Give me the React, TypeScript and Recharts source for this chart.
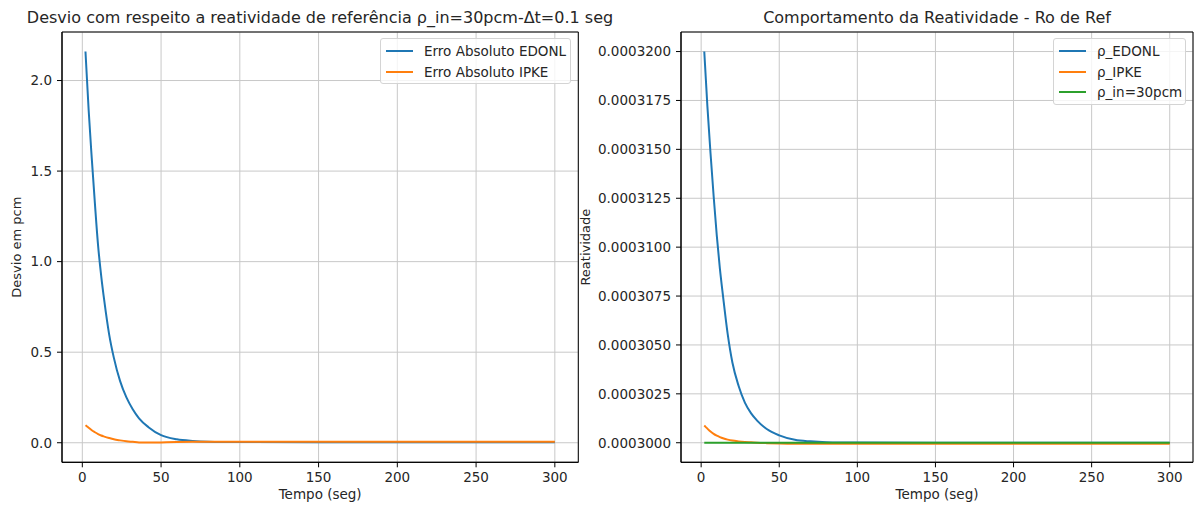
import {
  LineChart,
  Line,
  XAxis,
  YAxis,
  CartesianGrid,
  ReferenceArea,
} from "recharts";

// tempo (seg) dos pontos lidos
const tempo = [2, 3, 4, 6, 8, 10, 12, 14, 17, 20, 24, 28, 32, 36, 42, 50, 60, 70, 80, 100, 150, 200, 250, 300];

// erro absoluto em pcm
const erroEdonl = [2.16, 2.0, 1.84, 1.57, 1.32, 1.09, 0.92, 0.78, 0.6, 0.47, 0.34, 0.25, 0.185, 0.135, 0.086, 0.042, 0.019, 0.01, 0.006, 0.004, 0.003, 0.003, 0.003, 0.003];
const erroIpke = [0.097, 0.09, 0.083, 0.069, 0.058, 0.048, 0.04, 0.034, 0.026, 0.019, 0.013, 0.008, 0.005, 0.002, 0.001, 0.002, 0.004, 0.005, 0.005, 0.005, 0.005, 0.005, 0.005, 0.005];

// reatividade
const rhoEdonl = [0.00032, 0.0003186, 0.0003172, 0.0003148, 0.0003126, 0.0003106, 0.0003089, 0.0003075, 0.00030555, 0.0003041, 0.0003029, 0.00030205, 0.0003015, 0.00030112, 0.0003007, 0.00030038, 0.00030015, 0.00030007, 0.00030003, 0.00030001, 0.0003, 0.0003, 0.0003, 0.0003];
const rhoIpke = [0.00030088, 0.0003008, 0.00030072, 0.00030057, 0.00030045, 0.00030036, 0.00030029, 0.00030023, 0.00030016, 0.00030011, 0.00030007, 0.00030004, 0.00030002, 0.0003, 0.00029998, 0.00029996, 0.00029995, 0.00029995, 0.00029995, 0.00029995, 0.00029995, 0.00029995, 0.00029995, 0.00029995];
const rhoIn = [0.0003, 0.0003, 0.0003, 0.0003, 0.0003, 0.0003, 0.0003, 0.0003, 0.0003, 0.0003, 0.0003, 0.0003, 0.0003, 0.0003, 0.0003, 0.0003, 0.0003, 0.0003, 0.0003, 0.0003, 0.0003, 0.0003, 0.0003, 0.0003];

const xTicks = [0, 50, 100, 150, 200, 250, 300];
const desvioTicks = [0, 0.5, 1, 1.5, 2];
const rhoTicks = [0.0003, 0.0003025, 0.000305, 0.0003075, 0.00031, 0.0003125, 0.000315, 0.0003175, 0.00032];

const BLUE = "#1f77b4";
const ORANGE = "#ff7f0e";
const GREEN = "#2ca02c";
const FONT = "'DejaVu Sans', sans-serif";
const TEXT = "#262626";

const X_DOMAIN: [number, number] = [-12.9, 314.9];
const DESVIO_DOMAIN: [number, number] = [-0.108, 2.268];
const RHO_DOMAIN: [number, number] = [0.000299, 0.000321];

const desvioData = tempo.map((t, i) => ({ t, edonl: erroEdonl[i], ipke: erroIpke[i] }));
const rhoData = tempo.map((t, i) => ({ t, edonl: rhoEdonl[i], ipke: rhoIpke[i], rin: rhoIn[i] }));

const tickStyle = { fill: TEXT, fontSize: 13.5, fontFamily: FONT };
const labelStyle = { fill: TEXT, fontSize: 13.5, fontFamily: FONT };

function Title({ text, center }: { text: string; center: number }) {
  return (
    <div
      style={{
        position: "absolute",
        left: center - 400,
        width: 800,
        top: 8,
        textAlign: "center",
        fontFamily: FONT,
        fontSize: 16,
        color: TEXT,
        whiteSpace: "nowrap",
      }}
    >
      {text}
    </div>
  );
}

function LegendBox({
  items,
  left,
  top,
  width,
}: {
  items: { label: string; color: string }[];
  left: number;
  top: number;
  width: number;
}) {
  return (
    <div
      style={{
        position: "absolute",
        left,
        top,
        width,
        padding: "2px 0 1px",
        border: "1px solid #d4d4d4",
        borderRadius: 3,
        background: "rgba(255,255,255,0.8)",
        fontFamily: FONT,
        fontSize: 13.5,
        color: TEXT,
        boxSizing: "border-box",
      }}
    >
      {items.map((it) => (
        <div key={it.label} style={{ display: "flex", alignItems: "center", height: 20.5 }}>
          <span
            style={{
              display: "inline-block",
              width: 27,
              height: 2,
              marginLeft: 5,
              marginRight: 11,
              background: it.color,
            }}
          />
          <span style={{ whiteSpace: "nowrap" }}>{it.label}</span>
        </div>
      ))}
    </div>
  );
}

export default function App() {
  return (
    <div
      style={{
        position: "relative",
        width: 1194,
        height: 505,
        background: "#fff",
        overflow: "hidden",
      }}
    >
      <style>{"body{margin:0}"}</style>

      <div style={{ position: "absolute", left: 0, top: 0 }}>
        <LineChart
          width={590}
          height={505}
          data={desvioData}
          margin={{ top: 32, right: 11.7, bottom: 0, left: 0 }}
        >
          <CartesianGrid stroke="#c8c8c8" strokeWidth={1} />
          <XAxis
            dataKey="t"
            type="number"
            domain={X_DOMAIN}
            ticks={xTicks}
            allowDataOverflow
            height={42.7}
            stroke="#000"
            tickSize={5}
            tickMargin={5}
            tick={tickStyle}
            label={{ value: "Tempo (seg)", position: "insideBottom", offset: 6.5, style: labelStyle }}
          />
          <YAxis
            type="number"
            domain={DESVIO_DOMAIN}
            ticks={desvioTicks}
            allowDataOverflow
            width={62}
            stroke="#000"
            tickSize={5}
            tickMargin={5}
            tick={tickStyle}
            tickFormatter={(v: number) => v.toFixed(1)}
            label={{
              value: "Desvio em pcm",
              angle: -90,
              position: "insideLeft",
              offset: 16.7,
              style: { ...labelStyle, fontSize: 13, textAnchor: "middle" },
            }}
          />
          <ReferenceArea
            x1={X_DOMAIN[0]}
            x2={X_DOMAIN[1]}
            y1={DESVIO_DOMAIN[0]}
            y2={DESVIO_DOMAIN[1]}
            fill="#fff"
            fillOpacity={0}
            stroke="#000"
            strokeWidth={1}
          />
          <Line type="monotone" dataKey="edonl" stroke={BLUE} strokeWidth={2} dot={false} isAnimationActive={false} />
          <Line type="monotone" dataKey="ipke" stroke={ORANGE} strokeWidth={2} dot={false} isAnimationActive={false} />
        </LineChart>
      </div>

      <div style={{ position: "absolute", left: 575, top: 0 }}>
        <LineChart
          width={619}
          height={505}
          data={rhoData}
          margin={{ top: 32, right: 1, bottom: 0, left: 0 }}
        >
          <CartesianGrid stroke="#c8c8c8" strokeWidth={1} />
          <XAxis
            dataKey="t"
            type="number"
            domain={X_DOMAIN}
            ticks={xTicks}
            allowDataOverflow
            height={42.7}
            stroke="#000"
            tickSize={5}
            tickMargin={5}
            tick={tickStyle}
            label={{ value: "Tempo (seg)", position: "insideBottom", offset: 6.5, style: labelStyle }}
          />
          <YAxis
            type="number"
            domain={RHO_DOMAIN}
            ticks={rhoTicks}
            allowDataOverflow
            width={106}
            stroke="#000"
            tickSize={5}
            tickMargin={5}
            tick={tickStyle}
            tickFormatter={(v: number) => v.toFixed(7)}
            label={{
              value: "Reatividade",
              angle: -90,
              position: "insideLeft",
              offset: 10,
              style: { ...labelStyle, fontSize: 13, textAnchor: "middle" },
            }}
          />
          <ReferenceArea
            x1={X_DOMAIN[0]}
            x2={X_DOMAIN[1]}
            y1={RHO_DOMAIN[0]}
            y2={RHO_DOMAIN[1]}
            fill="#fff"
            fillOpacity={0}
            stroke="#000"
            strokeWidth={1}
          />
          <Line type="monotone" dataKey="edonl" stroke={BLUE} strokeWidth={2} dot={false} isAnimationActive={false} />
          <Line type="monotone" dataKey="ipke" stroke={ORANGE} strokeWidth={2} dot={false} isAnimationActive={false} />
          <Line type="monotone" dataKey="rin" stroke={GREEN} strokeWidth={2} dot={false} isAnimationActive={false} />
        </LineChart>
      </div>

      <Title text="Desvio com respeito a reatividade de referência ρ_in=30pcm-Δt=0.1 seg" center={320} />
      <Title text="Comportamento da Reatividade - Ro de Ref" center={937} />

      <LegendBox
        left={380}
        top={38}
        width={191}
        items={[
          { label: "Erro Absoluto EDONL", color: BLUE },
          { label: "Erro Absoluto IPKE", color: ORANGE },
        ]}
      />
      <LegendBox
        left={1053}
        top={38}
        width={133}
        items={[
          { label: "ρ_EDONL", color: BLUE },
          { label: "ρ_IPKE", color: ORANGE },
          { label: "ρ_in=30pcm", color: GREEN },
        ]}
      />
    </div>
  );
}
